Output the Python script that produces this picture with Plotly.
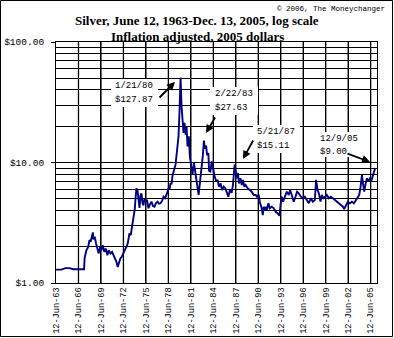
import plotly.graph_objects as go

# ---- data ----
years = [
    1963.45, 1964.15, 1964.69, 1965.22, 1965.76, 1966.56, 1967.19, 1967.27, 1967.50, 1967.76,
    1967.90, 1968.07, 1968.26, 1968.37, 1968.43, 1968.61, 1968.79, 1968.97, 1969.14, 1969.33,
    1969.50, 1969.68, 1969.90, 1970.08, 1970.31, 1970.48, 1970.71, 1970.93, 1971.11, 1971.28,
    1971.51, 1971.68, 1971.87, 1972.04, 1972.22, 1972.45, 1972.62, 1972.85, 1973.02, 1973.25,
    1973.42, 1973.65, 1973.82, 1973.96, 1974.08, 1974.18, 1974.32, 1974.45, 1974.59, 1974.72,
    1974.85, 1974.99, 1975.12, 1975.25, 1975.39, 1975.59, 1975.79, 1975.99, 1976.19, 1976.39,
    1976.59, 1976.79, 1976.99, 1977.19, 1977.39, 1977.60, 1977.80, 1978.00, 1978.20, 1978.33,
    1978.46, 1978.60, 1978.73, 1978.87, 1979.00, 1979.13, 1979.27, 1979.40, 1979.49, 1979.60,
    1979.67, 1979.80, 1979.94, 1980.07, 1980.20, 1980.34, 1980.47, 1980.60, 1980.74, 1980.87,
    1981.00, 1981.18, 1981.31, 1981.50, 1981.67, 1981.85, 1982.03, 1982.21, 1982.38, 1982.48,
    1982.61, 1982.75, 1982.88, 1983.05, 1983.19, 1983.32, 1983.48, 1983.61, 1983.78, 1983.88,
    1984.05, 1984.22, 1984.39, 1984.62, 1984.84, 1985.02, 1985.19, 1985.42, 1985.59, 1985.82,
    1986.05, 1986.22, 1986.45, 1986.66, 1986.89, 1987.06, 1987.20, 1987.29, 1987.43, 1987.56,
    1987.73, 1987.87, 1988.06, 1988.23, 1988.40, 1988.59, 1988.76, 1989.03, 1989.30, 1989.56,
    1989.83, 1990.10, 1990.27, 1990.50, 1990.64, 1990.77, 1990.90, 1991.04, 1991.17, 1991.31,
    1991.44, 1991.57, 1991.80, 1991.97, 1992.24, 1992.51, 1992.77, 1993.04, 1993.27, 1993.44,
    1993.58, 1993.75, 1993.98, 1994.25, 1994.51, 1994.69, 1994.91, 1995.18, 1995.41, 1995.62,
    1995.85, 1996.12, 1996.39, 1996.65, 1996.92, 1997.19, 1997.46, 1997.72, 1997.99, 1998.16,
    1998.35, 1998.53, 1998.75, 1998.93, 1999.15, 1999.37, 1999.60, 1999.86, 2000.13, 2000.40,
    2000.66, 2000.93, 2001.20, 2001.47, 2001.74, 2001.91, 2002.14, 2002.40, 2002.67, 2002.94,
    2003.21, 2003.47, 2003.70, 2003.92, 2004.10, 2004.28, 2004.41, 2004.59, 2004.78, 2004.95,
    2005.12, 2005.35, 2005.57, 2005.75, 2005.92, 2006.05,
]
prices = [
    1.29, 1.29, 1.33, 1.33, 1.30, 1.29, 1.30, 1.62, 1.87, 2.00,
    2.27, 2.20, 2.58, 2.63, 2.30, 2.42, 2.13, 1.93, 1.76, 2.00,
    1.87, 2.06, 1.81, 1.93, 1.70, 1.87, 1.76, 1.81, 1.70, 1.60,
    1.50, 1.36, 1.50, 1.60, 1.65, 1.76, 1.87, 2.00, 2.13, 2.58,
    2.50, 3.13, 3.55, 4.10, 5.20, 6.10, 5.90, 5.00, 4.20, 5.30,
    5.55, 4.60, 4.40, 5.00, 4.73, 4.90, 4.17, 4.50, 4.73, 4.35,
    4.30, 4.60, 4.73, 4.55, 4.59, 4.80, 5.20, 5.05, 5.38, 5.70,
    6.10, 6.00, 6.74, 6.60, 7.80, 8.20, 8.98, 9.60, 10.9, 12.0,
    13.6, 16.5, 27.4, 50.6, 29.3, 23.4, 17.6, 21.3, 17.0, 19.9,
    13.6, 16.5, 11.2, 9.25, 8.00, 10.0, 8.50, 7.20, 6.40, 5.38,
    6.40, 7.60, 9.25, 11.5, 15.2, 13.0, 13.8, 11.5, 12.0, 8.50,
    8.40, 10.2, 9.25, 7.60, 6.95, 7.17, 6.30, 6.70, 5.92, 6.30,
    6.10, 5.73, 5.20, 5.92, 5.60, 6.50, 8.70, 9.60, 8.40, 7.40,
    8.17, 6.70, 7.40, 6.50, 7.17, 6.30, 6.50, 6.10, 5.92, 5.73,
    5.38, 5.38, 5.20, 5.40, 4.73, 4.50, 4.17, 3.66, 4.30, 4.00,
    4.30, 4.03, 4.59, 4.17, 4.30, 4.17, 3.90, 3.78, 3.61, 4.59,
    5.20, 4.73, 5.20, 5.73, 5.38, 5.92, 5.38, 4.73, 5.20, 5.73,
    5.55, 5.20, 5.05, 5.20, 4.89, 4.59, 5.05, 4.73, 4.89, 7.17,
    5.92, 5.55, 4.73, 5.38, 5.05, 5.20, 5.38, 5.05, 5.20, 5.05,
    4.89, 4.73, 4.59, 4.44, 4.30, 4.11, 4.44, 4.73, 4.59, 4.73,
    4.59, 4.89, 5.20, 5.38, 6.30, 7.90, 6.74, 5.73, 6.74, 7.40,
    6.95, 7.40, 7.17, 7.90, 8.40, 9.00,
]

tick_years = [1963.445, 1966.445, 1969.445, 1972.445, 1975.445, 1978.445, 1981.445,
              1984.445, 1987.445, 1990.445, 1993.445, 1996.445, 1999.445, 2002.445, 2005.445]
tick_labels = ["12-Jun-63", "12-Jun-66", "12-Jun-69", "12-Jun-72", "12-Jun-75",
               "12-Jun-78", "12-Jun-81", "12-Jun-84", "12-Jun-87", "12-Jun-90",
               "12-Jun-93", "12-Jun-96", "12-Jun-99", "12-Jun-02", "12-Jun-05"]
y_ticks = [1, 10, 100]
y_labels = ["$1.00", "$10.00", "$100.00"]
y_minor = [2, 3, 4, 5, 6, 7, 8, 9, 20, 30, 40, 50, 60, 70, 80, 90]

callouts = [  # (line1, line2)
    ("1/21/80", "$127.87"),
    ("2/22/83", "$27.63"),
    ("5/21/87", "$15.11"),
    ("12/9/05", "$9.00"),
]

# ---- layout geometry ----
W, H = 394, 338
ML, MT, PW, PH = 56, 42, 321, 241
MR = W - ML - PW
MB = H - MT - PH

def px(x):
    return (x - ML) / PW

def py(y):
    return (MT + PH - y) / PH

MONO = "Liberation Mono, Courier New, monospace"
SERIF = "Liberation Serif, Times New Roman, serif"

fig = go.Figure()
fig.add_trace(go.Scatter(x=years, y=prices, mode="lines",
                         line=dict(color="#000080", width=1.9),
                         hoverinfo="skip", showlegend=False))

ann = []
ann.append(dict(text="<b>Silver, June 12, 1963-Dec. 13, 2005, log scale</b>",
                x=px(197), y=py(20), xref="paper", yref="paper", showarrow=False,
                xanchor="center", yanchor="middle",
                font=dict(family=SERIF, size=13, color="black")))
ann.append(dict(text="<b>Inflation adjusted, 2005 dollars</b>",
                x=px(197), y=py(36), xref="paper", yref="paper", showarrow=False,
                xanchor="center", yanchor="middle",
                font=dict(family=SERIF, size=13, color="black")))
ann.append(dict(text="\u00a9 2006, The Moneychanger",
                x=px(387), y=py(9), xref="paper", yref="paper", showarrow=False,
                xanchor="right", yanchor="middle",
                font=dict(family=MONO, size=7.5, color="black")))

boxes = [
    (111, 158, 79, 107, 113, 86, 100),
    (210, 258, 87, 115, 213, 94, 108),
    (253, 300, 125, 153, 255, 132, 146),
    (315, 361, 132, 157, 318, 139, 152),
]
for (bx0, bx1, by0, by1, tx, l1, l2), (t1, t2) in zip(boxes, callouts):
    ann.append(dict(text=" ", x=px(bx0), y=py(by0), xref="paper", yref="paper",
                    xanchor="left", yanchor="top", showarrow=False,
                    width=bx1 - bx0, height=by1 - by0, bgcolor="white",
                    borderpad=0, borderwidth=0))
    for t, ly in ((t1, l1), (t2, l2)):
        ann.append(dict(text=t, x=px(tx), y=py(ly), xref="paper", yref="paper",
                        xanchor="left", yanchor="middle", showarrow=False, align="left",
                        font=dict(family=MONO, size=9, color="black")))

arrows = [
    (175, 82, 158, 99),
    (206, 133, 216, 116),
    (243, 159, 254, 139),
    (370, 162, 346, 153),
]
for hx, hy, tx, ty in arrows:
    ann.append(dict(text="", x=px(hx), y=py(hy), xref="paper", yref="paper",
                    ax=tx - hx, ay=ty - hy, showarrow=True,
                    arrowhead=2, arrowsize=0.9, arrowwidth=1.8, arrowcolor="black"))

shapes = [dict(type="rect", xref="paper", yref="paper",
               x0=px(0.5), x1=px(392.5), y0=py(336.5), y1=py(0.5),
               line=dict(color="black", width=1), fillcolor="rgba(0,0,0,0)", layer="above")]
# vertical grid lines at the date ticks (between gridlines and the data)
for tv in tick_years[1:]:
    shapes.append(dict(type="line", xref="x", yref="paper", x0=tv, x1=tv, y0=0, y1=1,
                       line=dict(color="black", width=1.3), layer="between"))

fig.update_layout(
    width=W, height=H,
    margin=dict(l=ML, r=MR, t=MT, b=MB, pad=0, autoexpand=False),
    paper_bgcolor="white", plot_bgcolor="white",
    showlegend=False,
    annotations=ann,
    shapes=shapes,
    xaxis=dict(range=[1963.445, 2006.29], tickmode="array", tickvals=tick_years,
               ticktext=tick_labels, tickangle=-90, ticks="inside", ticklen=3,
               tickcolor="black", tickwidth=1, automargin=False,
               showgrid=True, gridcolor="black", gridwidth=1, zeroline=False,
               showline=True, linecolor="black", linewidth=1, mirror=True,
               tickfont=dict(family=MONO, size=8.6, color="black")),
    yaxis=dict(type="log", range=[0, 2], tickmode="array", tickvals=y_ticks,
               ticktext=y_labels, ticks="outside", ticklen=4, tickcolor="black",
               automargin=False, ticklabelstandoff=5,
               showgrid=True, gridcolor="black", gridwidth=1, zeroline=False,
               showline=True, linecolor="black", linewidth=1, mirror=True,
               minor=dict(tickmode="array", tickvals=y_minor, showgrid=True,
                          gridcolor="black", gridwidth=1, ticks=""),
               tickfont=dict(family=MONO, size=9.5, color="black")),
)

fig.write_html("out.html")
